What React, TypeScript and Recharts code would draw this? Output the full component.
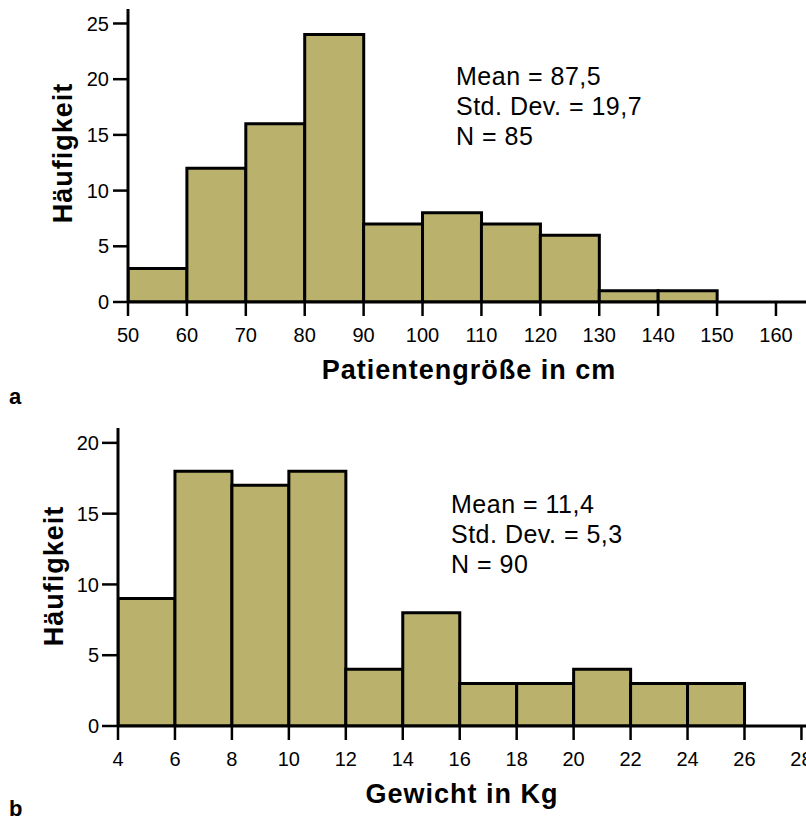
import React from 'react';
import { BarChart, Bar, XAxis, YAxis, Customized } from 'recharts';

// Chart a: patient height (cm)
const heightBinMids = [55, 65, 75, 85, 95, 105, 115, 125, 135, 145];
const heightCounts = [3, 12, 16, 24, 7, 8, 7, 6, 1, 1];
const heightXTicks = [50, 60, 70, 80, 90, 100, 110, 120, 130, 140, 150, 160];
const heightYTicks = [0, 5, 10, 15, 20, 25];
const heightStats = ['Mean = 87,5', 'Std. Dev. = 19,7', 'N = 85'];

// Chart b: weight (kg)
const weightBinMids = [5, 7, 9, 11, 13, 15, 17, 19, 21, 23, 25];
const weightCounts = [9, 18, 17, 18, 4, 8, 3, 3, 4, 3, 3];
const weightXTicks = [4, 6, 8, 10, 12, 14, 16, 18, 20, 22, 24, 26, 28];
const weightYTicks = [0, 5, 10, 15, 20];
const weightStats = ['Mean = 11,4', 'Std. Dev. = 5,3', 'N = 90'];

const heightData = heightBinMids.map((x, i) => ({ x, count: heightCounts[i] }));
const weightData = weightBinMids.map((x, i) => ({ x, count: weightCounts[i] }));

const FONT = '"Liberation Sans", Arial, Helvetica, sans-serif';
const BAR_FILL = '#BAB26C';
const TICK_FONT_SIZE = 20;

const axisLineStyle = { stroke: '#000', strokeWidth: 3 };
const tickLineStyle = { stroke: '#000', strokeWidth: 2.5 };

function XTick(props: any) {
  const { x, y, payload } = props;
  return (
    <text x={x} y={y} dy="0.71em" textAnchor="middle" fontSize={TICK_FONT_SIZE} fontFamily={FONT} fill="#000">
      {payload.value}
    </text>
  );
}

function YTick(props: any) {
  const { x, y, payload } = props;
  return (
    <text x={x} y={y} dy="0.355em" textAnchor="end" fontSize={TICK_FONT_SIZE} fontFamily={FONT} fill="#000">
      {payload.value}
    </text>
  );
}

function Annotations(props: {
  stats: string[];
  statsX: number;
  statsY: number;
  yTitle: string;
  yTitleX: number;
  yTitleY: number;
  xTitle: string;
  xTitleX: number;
  xTitleY: number;
  letter: string;
  letterY: number;
}) {
  return (
    <g fontFamily={FONT}>
      {props.stats.map((s, i) => (
        <text key={i} x={props.statsX} y={props.statsY + i * 30} fontSize={25} letterSpacing={0.5} fill="#000">
          {s}
        </text>
      ))}
      <text
        x={props.yTitleX}
        y={props.yTitleY}
        fontSize={27}
        fontWeight="bold"
        letterSpacing={1}
        textAnchor="middle"
        transform={`rotate(-90 ${props.yTitleX} ${props.yTitleY})`}
        fill="#000"
      >
        {props.yTitle}
      </text>
      <text x={props.xTitleX} y={props.xTitleY} fontSize={27} fontWeight="bold" letterSpacing={1} textAnchor="middle" fill="#000">
        {props.xTitle}
      </text>
      <text x={9} y={props.letterY} fontSize={22} fontWeight="bold" fill="#000">
        {props.letter}
      </text>
    </g>
  );
}

export default function App() {
  return (
    <div style={{ position: 'absolute', left: 0, top: 0, width: 806, height: 823, background: '#fff' }}>
      <BarChart
        width={806}
        height={410}
        data={heightData}
        margin={{ top: 9, right: 0, bottom: 0, left: 0 }}
        barCategoryGap={0}
        barGap={0}
      >
        <XAxis
          dataKey="x"
          type="number"
          domain={[50, 165.1]}
          ticks={heightXTicks}
          interval={0}
          height={108}
          tickSize={14}
          tickMargin={12}
          tick={<XTick />}
          axisLine={axisLineStyle}
          tickLine={tickLineStyle}
          allowDataOverflow
        />
        <YAxis
          type="number"
          domain={[0, 26.3]}
          ticks={heightYTicks}
          interval={0}
          width={128}
          tickSize={15}
          tickMargin={4}
          tick={<YTick />}
          axisLine={axisLineStyle}
          tickLine={tickLineStyle}
          allowDataOverflow
        />
        <Bar dataKey="count" fill={BAR_FILL} stroke="#000" strokeWidth={3} isAnimationActive={false} />
        <Customized
          component={() => (
            <Annotations
              stats={heightStats}
              statsX={456}
              statsY={85}
              yTitle="Häufigkeit"
              yTitleX={72}
              yTitleY={153}
              xTitle="Patientengröße in cm"
              xTitleX={469}
              xTitleY={379}
              letter="a"
              letterY={404}
            />
          )}
        />
      </BarChart>
      <BarChart
        width={806}
        height={413}
        data={weightData}
        margin={{ top: 18, right: 0, bottom: 0, left: 0 }}
        barCategoryGap={0}
        barGap={0}
      >
        <XAxis
          dataKey="x"
          type="number"
          domain={[4, 28.16]}
          ticks={weightXTicks}
          interval={0}
          height={97}
          tickSize={14}
          tickMargin={12}
          tick={<XTick />}
          axisLine={axisLineStyle}
          tickLine={tickLineStyle}
          allowDataOverflow
        />
        <YAxis
          type="number"
          domain={[0, 21.05]}
          ticks={weightYTicks}
          interval={0}
          width={118}
          tickSize={16}
          tickMargin={3}
          tick={<YTick />}
          axisLine={axisLineStyle}
          tickLine={tickLineStyle}
          allowDataOverflow
        />
        <Bar dataKey="count" fill={BAR_FILL} stroke="#000" strokeWidth={3} isAnimationActive={false} />
        <Customized
          component={() => (
            <Annotations
              stats={weightStats}
              statsX={451}
              statsY={103}
              yTitle="Häufigkeit"
              yTitleX={63}
              yTitleY={166}
              xTitle="Gewicht in Kg"
              xTitleX={462}
              xTitleY={393}
              letter="b"
              letterY={406}
            />
          )}
        />
      </BarChart>
    </div>
  );
}
